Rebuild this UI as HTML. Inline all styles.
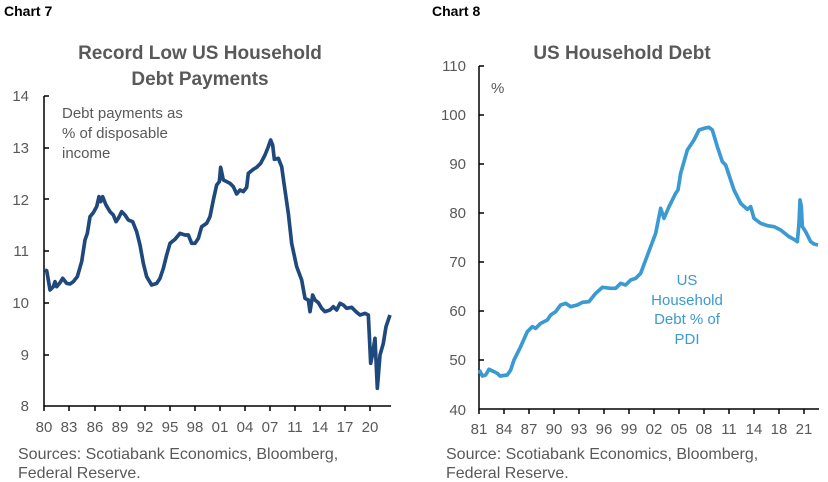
<!DOCTYPE html><html><head><style>body{margin:0;background:#fff}svg{display:block}text{font-family:"Liberation Sans",Arial,sans-serif}</style></head><body>
<svg width="828" height="482" viewBox="0 0 828 482" xmlns="http://www.w3.org/2000/svg">
<g font-family="Liberation Sans" >
<text x="4" y="16" font-size="14" font-weight="bold" fill="#000">Chart 7</text>
<text x="432" y="16" font-size="14" font-weight="bold" fill="#000">Chart 8</text>
<text x="200" y="59" font-size="19" font-weight="bold" fill="#595959" text-anchor="middle">Record Low US Household</text>
<text x="200" y="85" font-size="19" font-weight="bold" fill="#595959" text-anchor="middle">Debt Payments</text>
<text x="622" y="59" font-size="19" font-weight="bold" fill="#595959" text-anchor="middle">US Household Debt</text>
<g font-size="15" fill="#595959" text-anchor="end">
<text x="29" y="101">14</text><text x="29" y="153">13</text><text x="29" y="205">12</text><text x="29" y="256">11</text><text x="29" y="308">10</text><text x="29" y="360">9</text><text x="29" y="411">8</text>
<text x="466" y="71">110</text><text x="466" y="120">100</text><text x="466" y="169">90</text><text x="466" y="218">80</text><text x="466" y="267">70</text><text x="466" y="316">60</text><text x="466" y="365">50</text><text x="466" y="415">40</text>
</g>
<g font-size="15" fill="#595959" text-anchor="middle">
<text x="44" y="432">80</text><text x="69" y="432">83</text><text x="95" y="432">86</text><text x="120" y="432">89</text><text x="145" y="432">92</text><text x="170" y="432">95</text><text x="195" y="432">98</text><text x="220" y="432">01</text><text x="245" y="432">04</text><text x="270" y="432">07</text><text x="295" y="432">11</text><text x="320" y="432">14</text><text x="345" y="432">17</text><text x="370" y="432">20</text>
<text x="479" y="434">81</text><text x="504" y="434">84</text><text x="529" y="434">87</text><text x="554" y="434">90</text><text x="579" y="434">93</text><text x="604" y="434">96</text><text x="629" y="434">99</text><text x="654" y="434">02</text><text x="679" y="434">05</text><text x="704" y="434">08</text><text x="729" y="434">11</text><text x="754" y="434">14</text><text x="779" y="434">18</text><text x="804" y="434">21</text>
</g>
<g font-size="16" fill="#595959">
<text x="18" y="459">Sources: Scotiabank Economics, Bloomberg,</text>
<text x="18" y="478">Federal Reserve.</text>
<text x="446" y="459">Source: Scotiabank Economics, Bloomberg,</text>
<text x="446" y="478">Federal Reserve.</text>
</g>
<g font-size="15" fill="#595959">
<text x="62" y="118">Debt payments as</text>
<text x="62" y="138">% of disposable</text>
<text x="62" y="158">income</text>
<text x="491" y="93">%</text>
</g>
<g font-size="15" fill="#3a9ad1" text-anchor="middle">
<text x="687" y="285">US</text><text x="687" y="305">Household</text><text x="687" y="324">Debt % of</text><text x="687" y="344">PDI</text>
</g>
</g>
<g stroke="#000" stroke-width="1.5" fill="none">
<path d="M44,96V406H391"/>
<path d="M44,406v5M69,406v5M95,406v5M120,406v5M145,406v5M170,406v5M195,406v5M220,406v5M245,406v5M270,406v5M295,406v5M320,406v5M345,406v5M370,406v5"/>
<path d="M44,96h5M44,148h5M44,199h5M44,251h5M44,303h5M44,355h5"/>
<path d="M479,66V409H819"/>
<path d="M479,409v5M504,409v5M529,409v5M554,409v5M579,409v5M604,409v5M629,409v5M654,409v5M679,409v5M704,409v5M729,409v5M754,409v5M779,409v5M804,409v5"/>
<path d="M479,66h5M479,115h5M479,164h5M479,213h5M479,262h5M479,311h5M479,360h5"/>
</g>
<g transform="translate(0,80) scale(0.33333)" fill="none" stroke="#1f497d" stroke-width="11" stroke-linejoin="round">
<polyline points="135,570 140,572 145,600 150,630 160,620 165,605 170,620 180,608 188,595 200,610 210,612 220,605 232,590 245,545 255,480 262,460 270,410 280,398 290,380 297,350 302,365 308,350 318,375 330,395 340,405 348,425 355,415 365,395 375,405 385,420 398,425 410,455 420,495 430,550 440,590 455,615 470,610 480,595 490,565 500,525 510,490 525,478 540,460 555,465 565,465 575,490 585,490 595,475 605,440 620,430 630,410 640,360 650,315 658,305 662,262 670,300 680,305 690,310 700,320 710,342 720,330 730,335 740,322 745,280 760,268 770,262 782,250 795,225 805,200 812,180 818,195 823,238 835,235 845,260 852,310 865,400 875,490 890,560 905,600 915,655 925,660 930,695 938,645 945,660 955,668 965,685 975,695 990,690 1000,680 1010,690 1020,670 1030,675 1040,685 1055,682 1068,695 1080,705 1095,700 1105,705 1112,850 1118,820 1125,775 1132,925 1140,825 1150,790 1158,740 1170,705"/>
</g>
<g transform="translate(414,50) scale(0.33333)" fill="none" stroke="#3a9ad1" stroke-width="11" stroke-linejoin="round">
<polyline points="196,960 205,978 215,975 225,958 240,965 250,970 258,978 280,975 290,960 300,930 320,890 340,845 355,830 365,835 380,820 400,810 410,795 425,785 440,765 455,760 470,770 490,765 505,757 525,755 545,730 565,712 590,715 605,715 620,700 635,705 650,690 665,685 680,670 695,630 710,590 725,550 740,475 750,505 765,470 785,430 792,420 800,370 820,300 840,270 855,240 870,235 885,232 895,240 910,290 925,335 935,345 960,420 980,460 1000,478 1010,470 1020,505 1040,520 1060,527 1080,530 1100,540 1125,560 1140,568 1150,575 1155,520 1158,450 1162,470 1165,530 1175,545 1190,575 1200,582 1212,585"/>
</g>
</svg>
</body></html>
